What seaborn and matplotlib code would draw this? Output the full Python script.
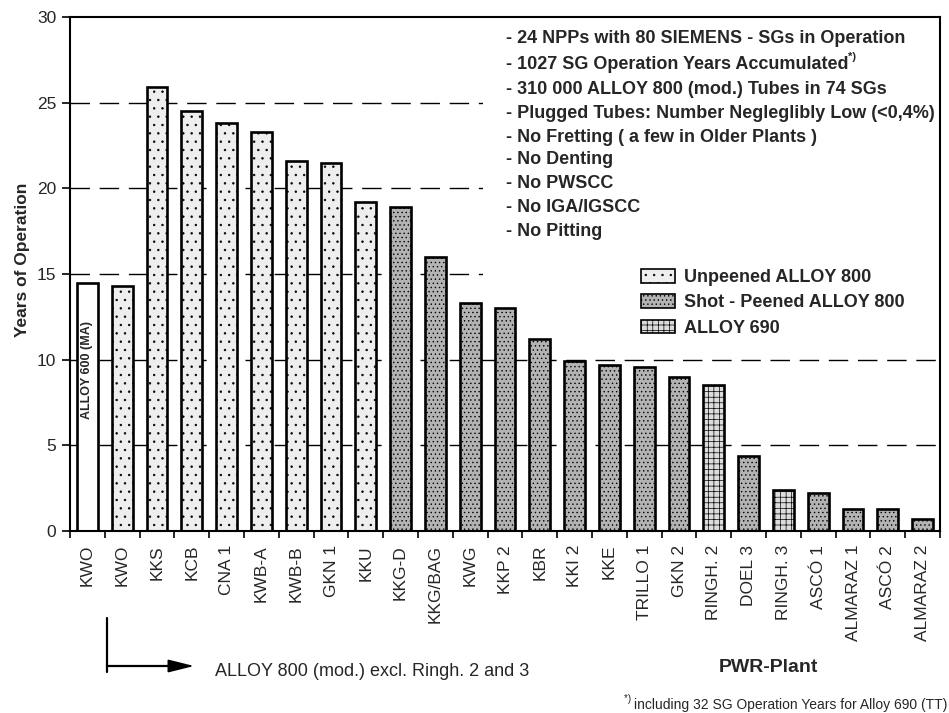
import numpy as np
import pandas as pd
import seaborn as sns
import matplotlib
matplotlib.use("Agg")
import matplotlib.pyplot as plt
from matplotlib import font_manager
from matplotlib.patches import Patch, Rectangle

# ---- data -------------------------------------------------------------
plants = ["KWO", "KWO", "KKS", "KCB", "CNA 1", "KWB-A", "KWB-B", "GKN 1", "KKU",
          "KKG-D", "KKG/BAG", "KWG", "KKP 2", "KBR", "KKI 2", "KKE", "TRILLO 1",
          "GKN 2", "RINGH. 2", "DOEL 3", "RINGH. 3", "ASCÓ 1", "ALMARAZ 1",
          "ASCÓ 2", "ALMARAZ 2"]
years = [14.5, 14.3, 25.9, 24.5, 23.8, 23.3, 21.6, 21.5, 19.2,
         18.9, 16.0, 13.3, 13.0, 11.2, 9.9, 9.7, 9.6,
         9.0, 8.5, 4.4, 2.4, 2.2, 1.3,
         1.3, 0.7]
materials = ["ALLOY 600 (MA)"] + ["Unpeened ALLOY 800"] * 8 \
    + ["Shot - Peened ALLOY 800"] * 9 + ["ALLOY 690", "Shot - Peened ALLOY 800",
                                        "ALLOY 690"] + ["Shot - Peened ALLOY 800"] * 4
legend_labels = ["Unpeened ALLOY 800", "Shot - Peened ALLOY 800", "ALLOY 690"]
notes = ["- 24 NPPs with 80 SIEMENS - SGs in Operation",
         "- 1027 SG Operation Years Accumulated",
         "- 310 000 ALLOY 800 (mod.) Tubes in 74 SGs",
         "- Plugged Tubes: Number Negleglibly Low (<0,4%)",
         "- No Fretting ( a few in Older Plants )",
         "- No Denting",
         "- No PWSCC",
         "- No IGA/IGSCC",
         "- No Pitting"]
yticks = [0, 5, 10, 15, 20, 25, 30]

# ---- styles -----------------------------------------------------------
hue_order = ["ALLOY 600 (MA)"] + legend_labels
face = {"ALLOY 600 (MA)": "#ffffff",
        "Unpeened ALLOY 800": "#eeeeee",
        "Shot - Peened ALLOY 800": "#b3b3b3",
        "ALLOY 690": "#dcdcdc"}
hatch = {"ALLOY 600 (MA)": "",
         "Unpeened ALLOY 800": "..",
         "Shot - Peened ALLOY 800": "....",
         "ALLOY 690": "+++"}

sns.set_theme(style="white")
names = {f.name for f in font_manager.fontManager.ttflist}
NARROW = "Liberation Sans Narrow" if "Liberation Sans Narrow" in names else "Liberation Sans"
plt.rcParams["font.family"] = ["Liberation Sans", "DejaVu Sans"]
plt.rcParams["hatch.linewidth"] = 0.5
plt.rcParams["hatch.color"] = "#555555"

df = pd.DataFrame({"slot": np.arange(len(plants)), "plant": plants,
                   "years": years, "material": materials})

fig = plt.figure(figsize=(9.49, 7.13), dpi=100)
ax = fig.add_axes([70 / 949, 1 - 531 / 713, 870 / 949, 514 / 713])

sns.barplot(data=df, x="slot", y="years", hue="material", hue_order=hue_order,
            palette=face, dodge=False, width=0.6, errorbar=None,
            edgecolor="black", linewidth=1.9, legend=False, ax=ax)

for cont, mat in zip(ax.containers, hue_order):
    for bar in cont:
        bar.set_hatch(hatch[mat])
        bar.set_zorder(2)

ax.set_xlim(-0.5, len(plants) - 0.5)
ax.set_ylim(0, 30)

# dashed reference lines, blanked out behind the notes and legend
for yv in yticks[1:-1]:
    ax.axhline(yv, color="black", lw=1.0, ls=(0, (14, 7)), zorder=0.5)
ax.add_patch(Rectangle((11.37, 14.2), len(plants) - 0.5 - 11.37, 15.7,
                       facecolor="white", edgecolor="none", zorder=1))

ax.set_yticks(yticks)
ax.set_yticklabels([str(v) for v in yticks], fontsize=12.5)
ax.tick_params(axis="y", direction="out", length=6, width=1.2, pad=4, left=True,
               color="black")
ax.set_xticks(range(len(plants)))
ax.set_xticklabels(plants, rotation=90, fontsize=12.5, family=NARROW, va="top")
ax.set_xticks(np.arange(-0.5, len(plants), 1.0), minor=True)
ax.tick_params(axis="x", which="major", length=0, pad=10)
ax.tick_params(axis="x", which="minor", direction="out", length=5, width=1.2,
               bottom=True, color="black")
ax.set_xlabel("")
ax.set_ylabel("Years of Operation", fontsize=12.5, fontweight="bold")
ax.yaxis.set_label_coords(-0.046, 0.527)
for sp in ax.spines.values():
    sp.set_visible(True)
    sp.set_color("black")
    sp.set_linewidth(1.5)

# label inside the first bar
ax.text(0, 9.4, "ALLOY 600 (MA)", rotation=90, ha="center", va="center",
        fontsize=9, fontweight="bold", family=NARROW, zorder=3)

# list of notes
line_y = [38.5, 64.5, 89, 113, 137, 160, 184, 207, 231]
for txt, py in zip(notes, line_y):
    t = fig.text(506 / 949, 1 - py / 713, txt, ha="left", va="center",
                 fontsize=13, fontweight="bold")
    if "Accumulated" in txt:
        ax.annotate("*)", xy=(1, 0.95), xycoords=t, ha="left", va="center",
                    fontsize=8, fontweight="bold")

# legend
handles = [Patch(facecolor=face[m], edgecolor="black", hatch=hatch[m], lw=1.2)
           for m in legend_labels]
leg = fig.legend(handles=handles, labels=legend_labels, loc="upper left",
                 bbox_to_anchor=(641 / 949, 1 - 269 / 713), frameon=False,
                 borderpad=0, borderaxespad=0, handlelength=1.9, handleheight=0.8,
                 handletextpad=0.5, labelspacing=0.45,
                 prop={"size": 13, "weight": "bold"})

# bracket arrow and captions below the axis
fig.add_artist(plt.Line2D([107 / 949, 107 / 949], [1 - 618 / 713, 1 - 672 / 713],
                          color="black", lw=1.6))
fig.add_artist(plt.Line2D([107 / 949, 172 / 949], [1 - 666 / 713, 1 - 666 / 713],
                          color="black", lw=1.6))
ax.annotate("", xy=(194 / 949, 1 - 666 / 713), xytext=(168 / 949, 1 - 666 / 713),
            xycoords="figure fraction", textcoords="figure fraction",
            arrowprops=dict(arrowstyle="-|>,head_length=1.6,head_width=0.4",
                            color="black", lw=1.2, shrinkA=0, shrinkB=0,
                            mutation_scale=10))
fig.text(215 / 949, 1 - 672 / 713, "ALLOY 800 (mod.) excl. Ringh. 2 and 3",
         ha="left", va="center", fontsize=13)
fig.text(768 / 949, 1 - 668 / 713, "PWR-Plant", ha="center", va="center",
         fontsize=14, fontweight="bold")
ft = fig.text(947 / 949, 1 - 705 / 713,
              "including 32 SG Operation Years for Alloy 690 (TT)",
              ha="right", va="center", fontsize=10, family=NARROW)
ax.annotate("*) ", xy=(0, 0.9), xycoords=ft, ha="right", va="center", fontsize=7)

fig.savefig("out.png", dpi=100)
